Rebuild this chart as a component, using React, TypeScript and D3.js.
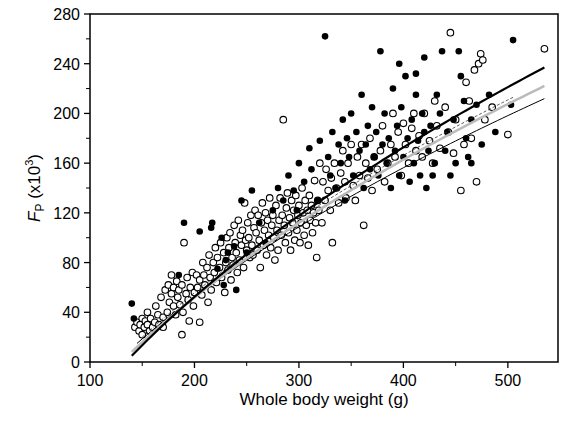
import React from "react";
import * as d3 from "d3";

const openPts: [number, number][] = [[143,28],[145,32],[147,25],[148,30],[150,35],[150,22],[152,28],[153,33],[155,30],[155,40],[157,25],[158,35],[160,28],[162,32],[163,45],[165,38],[166,30],[168,52],[170,36],[170,28],[172,58],[174,40],[175,62],[176,48],[178,70],[178,55],[180,45],[180,60],[182,38],[183,65],[184,52],[185,58],[186,46],[188,22],[188,62],[189,40],[190,96],[192,55],[193,68],[194,50],[195,33],[196,60],[198,72],[199,45],[200,56],
[202,70],[203,60],[205,32],[205,66],[207,54],[208,80],[209,70],[210,62],[212,76],[213,48],[214,86],[215,68],[216,58],[218,80],[219,72],[220,92],[221,64],[222,84],[224,76],[225,96],[226,68],[228,88],[229,56],[230,80],[231,100],[232,74],[233,92],[234,104],[235,66],[236,84],[237,78],[238,110],[239,96],[240,88],[241,72],[242,114],[243,82],[244,102],[245,94],[246,106],[247,76],[248,128],[249,98],[250,90],[251,112],[252,100],[253,84],[254,118],[255,94],[256,86],[257,108],[258,122],[259,104],[260,90],[261,118],[262,98],[263,76],[264,112],[265,128],[266,94],[267,106],[268,120],[269,86],[270,114],[271,102],[272,132],[273,92],[274,110],[275,118],[276,100],[277,82],[278,126],[279,106],[280,90],[281,114],[282,132],[283,102],[284,118],[285,195],[286,110],[287,96],[288,124],[289,136],[290,104],[291,116],[292,90],[293,130],[294,112],[295,122],[296,98],[297,134],[298,106],[299,118],[300,126],[301,96],[302,112],[303,140],[304,120],[305,102],[306,130],[307,110],[308,122],[309,94],[310,134],[311,114],[312,126],[313,104],[314,120],[315,146],[316,112],[317,84],[318,130],[319,122],[320,160],
[322,112],[323,145],[325,130],[326,155],[328,138],[330,122],[331,148],[332,96],[334,160],[336,140],[338,128],[340,152],[342,170],[344,145],[345,132],[347,160],[350,175],[352,142],[354,130],[356,165],[358,150],[360,175],[362,110],[364,160],[366,148],[368,180],[370,138],[372,165],[375,155],[378,170],[380,190],[382,145],[385,160],[388,175],[390,200],[392,165],[395,185],[398,150],[400,192],[402,175],[405,160],[408,188],[410,200],[412,170],[415,182],[418,165],[420,200],[425,178],[428,160],[430,210],[432,190],[435,172],[440,205],[443,185],[445,265],[448,168],[450,195],[455,138],[458,175],[460,225],[463,210],[465,180],[468,235],[470,145],[472,240],[474,248],[476,243],[478,195],[485,205],[500,183],[535,252]];

const filledPts: [number, number][] = [[140,47],[142,35],[185,70],[190,112],[205,105],[216,108],[217,112],[222,75],[230,82],[228,62],[232,88],[226,100],[238,93],[240,58],[245,130],[250,88],[255,138],[262,112],[268,96],[275,122],[280,140],[285,130],[290,150],[295,138],[298,122],[300,160],[305,145],[310,172],[312,155],[318,130],[320,178],[325,262],[328,165],[330,150],[332,185],[335,140],[338,175],[340,160],[342,195],[344,130],[346,180],[348,165],[350,200],[352,150],[355,185],[358,170],[360,215],[362,140],[364,175],[366,190],[368,155],[370,205],[372,165],[374,185],[376,150],[378,250],[380,175],[382,200],[384,160],[386,180],[388,140],[390,220],[392,170],[394,190],[396,150],[398,205],[400,165],[402,230],[404,180],[406,145],[408,195],[410,160],[412,215],[414,178],[416,150],[418,200],[420,185],[422,140],[424,170],[426,190],[428,150],[430,160],[432,215],[435,200],[437,250],[440,170],[442,185],[445,150],[448,195],[450,160],[453,250],[455,230],[458,210],[460,180],[462,165],[465,195],[470,207],[475,175],[482,215],[503,207],[505,259],[488,185],[420,245],[396,240],[412,232],[465,160]];

// fitted curves y = a*sqrt(x) - b over [x0, x1]
const fits = [
  { name: "dashed", a: 18.88, b: 211.3, x0: 150, x1: 505, stroke: "#333", width: 0.8, dash: "3,2" },
  { name: "thin", a: 17.76, b: 198.9, x0: 145, x1: 535, stroke: "#000", width: 1, dash: "" },
  { name: "gray", a: 18.94, b: 216, x0: 140, x1: 535, stroke: "#bbb", width: 2.5, dash: "" },
  { name: "thick", a: 20.53, b: 237.9, x0: 140, x1: 535, stroke: "#000", width: 2.2, dash: "" },
];

const xTicks = [100, 200, 300, 400, 500];
const yTicks = [0, 40, 80, 120, 160, 200, 240, 280];

export default function App() {
  const L = 90, R = 558, T = 14, B = 362;
  const x = d3.scaleLinear().domain([100, 548]).range([L, R]);
  const y = d3.scaleLinear().domain([0, 280]).range([B, T]);
  const minorX = d3.range(150, 550, 100);
  const minorY = d3.range(20, 280, 40);
  const font = "Liberation Sans, Arial, sans-serif";
  return (
    <svg width={563} height={425} style={{ position: "absolute", left: 0, top: 0, background: "#fff" }} fontFamily={font} fill="#000">
      <rect x={L} y={T} width={R - L} height={B - T} fill="none" stroke="#000" strokeWidth={1.5} />
      {xTicks.map(t => (
        <g key={t}>
          <line x1={x(t)} x2={x(t)} y1={B} y2={B + 6} stroke="#000" strokeWidth={1.3} />
          <text x={x(t)} y={B + 24} fontSize={16} textAnchor="middle" fill="#000">{t}</text>
        </g>
      ))}
      {minorX.map(t => <line key={t} x1={x(t)} x2={x(t)} y1={B} y2={B + 4} stroke="#000" />)}
      {yTicks.map(t => (
        <g key={t}>
          <line x1={L - 6} x2={L} y1={y(t)} y2={y(t)} stroke="#000" strokeWidth={1.3} />
          <text x={L - 10} y={y(t) + 6} fontSize={16} textAnchor="end" fill="#000">{t}</text>
        </g>
      ))}
      {minorY.map(t => <line key={t} x1={L - 4} x2={L} y1={y(t)} y2={y(t)} stroke="#000" />)}
      <text x={(L + R) / 2} y={405} fontSize={17} textAnchor="middle" fill="#000">Whole body weight (g)</text>
      <text transform={`translate(40,${(T + B) / 2}) rotate(-90)`} fontSize={17} textAnchor="middle" fill="#000">
        <tspan fontStyle="italic" fill="#000">F</tspan><tspan fontSize={12} dy={4} fill="#000">P</tspan><tspan dy={-4} fill="#000"> (x10</tspan><tspan fontSize={11} dy={-7} fill="#000">3</tspan><tspan dy={7} fill="#000">)</tspan>
      </text>
      {openPts.map((p, i) => <circle key={"o" + i} cx={x(p[0])} cy={y(p[1])} r={3.3} fill="#fff" stroke="#000" strokeWidth={1.1} />)}
      {filledPts.map((p, i) => <circle key={"f" + i} cx={x(p[0])} cy={y(p[1])} r={3.3} fill="#000" />)}
      {fits.map(f => {
        const xs = d3.range(f.x0, f.x1 + 1, 5);
        const path = d3.line<number>().x(v => x(v)).y(v => y(f.a * Math.sqrt(v) - f.b))(xs);
        return <path key={f.name} d={path || ""} fill="none" stroke={f.stroke} strokeWidth={f.width} strokeDasharray={f.dash} />;
      })}
    </svg>
  );
}
